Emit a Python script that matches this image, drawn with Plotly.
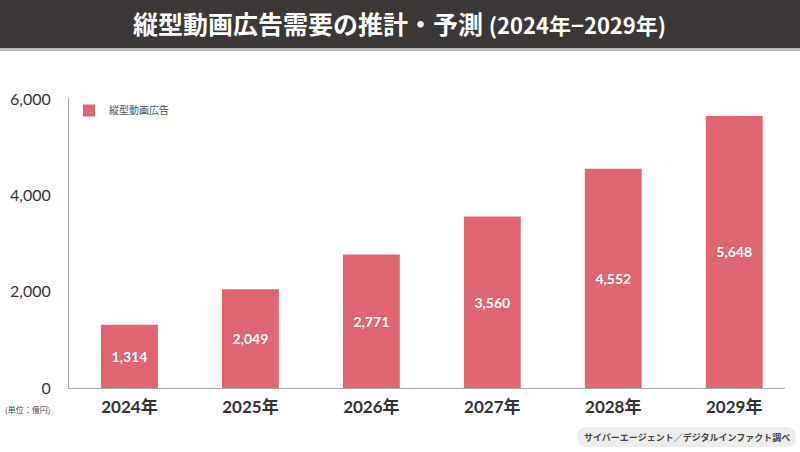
import plotly.graph_objects as go

categories = ["2024年", "2025年", "2026年", "2027年", "2028年", "2029年"]
values = [1314, 2049, 2771, 3560, 4552, 5648]
series_name = "縦型動画広告"
y_ticks = [0, 2000, 4000, 6000]
y_tick_labels = ["0", "2,000", "4,000", "6,000"]
title_main = "縦型動画広告需要の推計・予測"
title_sub = "(2024年−2029年)"
unit_text = "(単位：億円)"
source_text = "サイバーエージェント／デジタルインファクト調べ"

BAR = "#de6571"
FONT = "Lato, Noto Sans CJK JP, sans-serif"
JP = "Noto Sans CJK JP, sans-serif"

L, R, T, B = 69, 15, 98, 64
W, H = 800, 452
PW, PH = W - L - R, H - T - B


def X(px):
    return (px - L) / PW


def Y(py):
    return (H - B - py) / PH


def rounded(x0, y0, x1, y1, r):
    pts = []
    pts.append(f"M {X(x0 + r)} {Y(y0)}")
    pts.append(f"L {X(x1 - r)} {Y(y0)}")
    pts.append(f"Q {X(x1)} {Y(y0)} {X(x1)} {Y(y0 + r)}")
    pts.append(f"L {X(x1)} {Y(y1 - r)}")
    pts.append(f"Q {X(x1)} {Y(y1)} {X(x1 - r)} {Y(y1)}")
    pts.append(f"L {X(x0 + r)} {Y(y1)}")
    pts.append(f"Q {X(x0)} {Y(y1)} {X(x0)} {Y(y1 - r)}")
    pts.append(f"L {X(x0)} {Y(y0 + r)}")
    pts.append(f"Q {X(x0)} {Y(y0)} {X(x0 + r)} {Y(y0)} Z")
    return " ".join(pts)


fig = go.Figure()
fig.add_trace(go.Bar(
    x=list(range(len(categories))), y=values, name=series_name,
    marker=dict(color=BAR, line=dict(width=0)),
    width=0.47,
    text=[f"{v:,}" for v in values], textposition="inside",
    insidetextanchor="middle",
    textfont=dict(color="white", size=14, family=FONT, weight="bold"),
    hoverinfo="skip",
))

fig.update_layout(
    width=W, height=H,
    margin=dict(l=L, r=R, t=T, b=B),
    paper_bgcolor="white", plot_bgcolor="white",
    showlegend=True,
    legend=dict(x=X(69), y=Y(96), xanchor="left", yanchor="top",
                font=dict(size=10, color="#555", family=JP),
                bgcolor="rgba(0,0,0,0)", itemwidth=30),
    xaxis=dict(range=[-0.5, 5.42], tickvals=list(range(len(categories))),
               ticktext=categories, showgrid=False, zeroline=False,
               showline=True, linecolor="#aaaaaa", linewidth=1, automargin=False,
               ticks="", tickfont=dict(size=17, color="#333", family=FONT, weight="bold"),
               ticklabelstandoff=4),
    yaxis=dict(range=[0, 6020], tickvals=y_ticks, ticktext=y_tick_labels,
               showgrid=False, zeroline=False, showline=True, automargin=False,
               linecolor="#aaaaaa", linewidth=1, ticks="",
               tickfont=dict(size=16, color="#333", family=FONT),
               ticklabelstandoff=14),
    shapes=[
        dict(type="rect", xref="paper", yref="paper", x0=X(-5), x1=X(805),
             y0=Y(48), y1=Y(-5), fillcolor="#3b3736",
             line=dict(width=0), layer="below"),
        dict(type="rect", xref="paper", yref="paper", x0=X(-5), x1=X(805),
             y0=Y(51), y1=Y(48), fillcolor="#bdb9b7",
             line=dict(width=0), layer="below"),
        dict(type="path", xref="paper", yref="paper", layer="below",
             path=rounded(577, 427, 796, 447, 10),
             fillcolor="#ececec", line=dict(width=0)),
    ],
    annotations=[
        dict(text=f"{title_main} <span style='font-size:22px'>{title_sub}</span>",
             xref="paper", yref="paper",
             x=X(399), y=Y(23), xanchor="center", yanchor="middle",
             showarrow=False, font=dict(size=25, color="white", family=JP, weight="bold")),
        dict(text=unit_text, xref="paper", yref="paper",
             x=X(3), y=Y(409), xanchor="left", yanchor="middle",
             showarrow=False, font=dict(size=8, color="#444", family=JP)),
        dict(text=source_text, xref="paper", yref="paper",
             x=X(686.5), y=Y(437), xanchor="center", yanchor="middle",
             showarrow=False, font=dict(size=9, color="#444", family=JP, weight="bold")),
    ],
)

fig.write_html("out.html", config={"displayModeBar": False},
               post_script="document.body.style.margin='0';")
